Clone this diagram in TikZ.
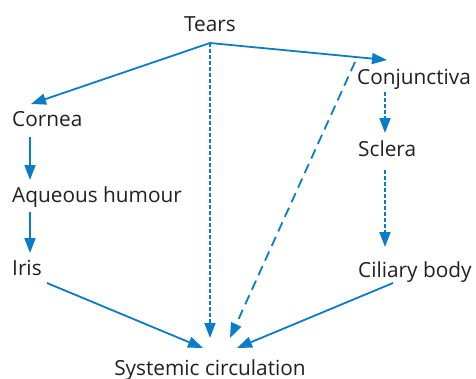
\documentclass[tikz,border=0pt]{standalone}
\usepackage{fontspec}
\setmainfont{Open Sans}
\usetikzlibrary{arrows.meta}
\definecolor{flow}{RGB}{10,124,200}
\definecolor{ink}{RGB}{35,31,32}
\tikzset{
  lbl/.style={inner sep=0pt, text=ink, font=\fontsize{20.8}{24}\selectfont},
  conn/.style={draw=flow, line width=1.8pt, -{Triangle[length=15pt,width=11pt]}},
  dotline/.style={dash pattern=on 3.5pt off 2.5pt},
  dashline/.style={dash pattern=on 10pt off 6pt},
}
\begin{document}
\begin{tikzpicture}[x=1pt,y=-1pt]
\useasboundingbox (0,0) rectangle (476,378);
% labels
\node[lbl, anchor=base] (tears) at (210,31) {Tears};
\node[lbl, anchor=base west] (cornea) at (12,126) {Cornea};
\node[lbl, anchor=base west] (aqueous) at (12,202) {Aqueous humour};
\node[lbl, anchor=base west] (iris) at (12,275) {Iris};
\node[lbl, anchor=base west] (conj) at (357,84) {Conjunctiva};
\node[lbl, anchor=base west] (sclera) at (358,156) {Sclera};
\node[lbl, anchor=base west] (ciliary) at (358,277) {Ciliary body};
\node[lbl, anchor=base] (sys) at (210,375) {Systemic circulation};
% connector end points
\coordinate (apex) at (210,43);
\coordinate (corneaIn) at (31,104);
\coordinate (conjIn) at (387,60);
\coordinate (corneaOut) at (30,137);
\coordinate (aqIn) at (30,180);
\coordinate (aqOut) at (30,212);
\coordinate (irisIn) at (30,253);
\coordinate (irisOut) at (47,283);
\coordinate (sysA) at (203,348);
\coordinate (sysB) at (210,338);
\coordinate (sysC) at (230,338);
\coordinate (sysD) at (237,348);
\coordinate (conjDash) at (355,62);
\coordinate (conjOut) at (385,92);
\coordinate (sclIn) at (385,133);
\coordinate (sclOut) at (385,170);
\coordinate (cilIn) at (385,247);
\coordinate (cilOut) at (393,283);
% connectors
\draw[conn] (apex) -- (corneaIn);
\draw[conn] (apex) -- (conjIn);
\draw[conn, dotline] (apex) -- (sysB);
\draw[conn, dashline] (conjDash) -- (sysC);
\draw[conn] (corneaOut) -- (aqIn);
\draw[conn] (aqOut) -- (irisIn);
\draw[conn] (irisOut) -- (sysA);
\draw[conn, dotline] (conjOut) -- (sclIn);
\draw[conn, dotline] (sclOut) -- (cilIn);
\draw[conn] (cilOut) -- (sysD);
\end{tikzpicture}
\end{document}
